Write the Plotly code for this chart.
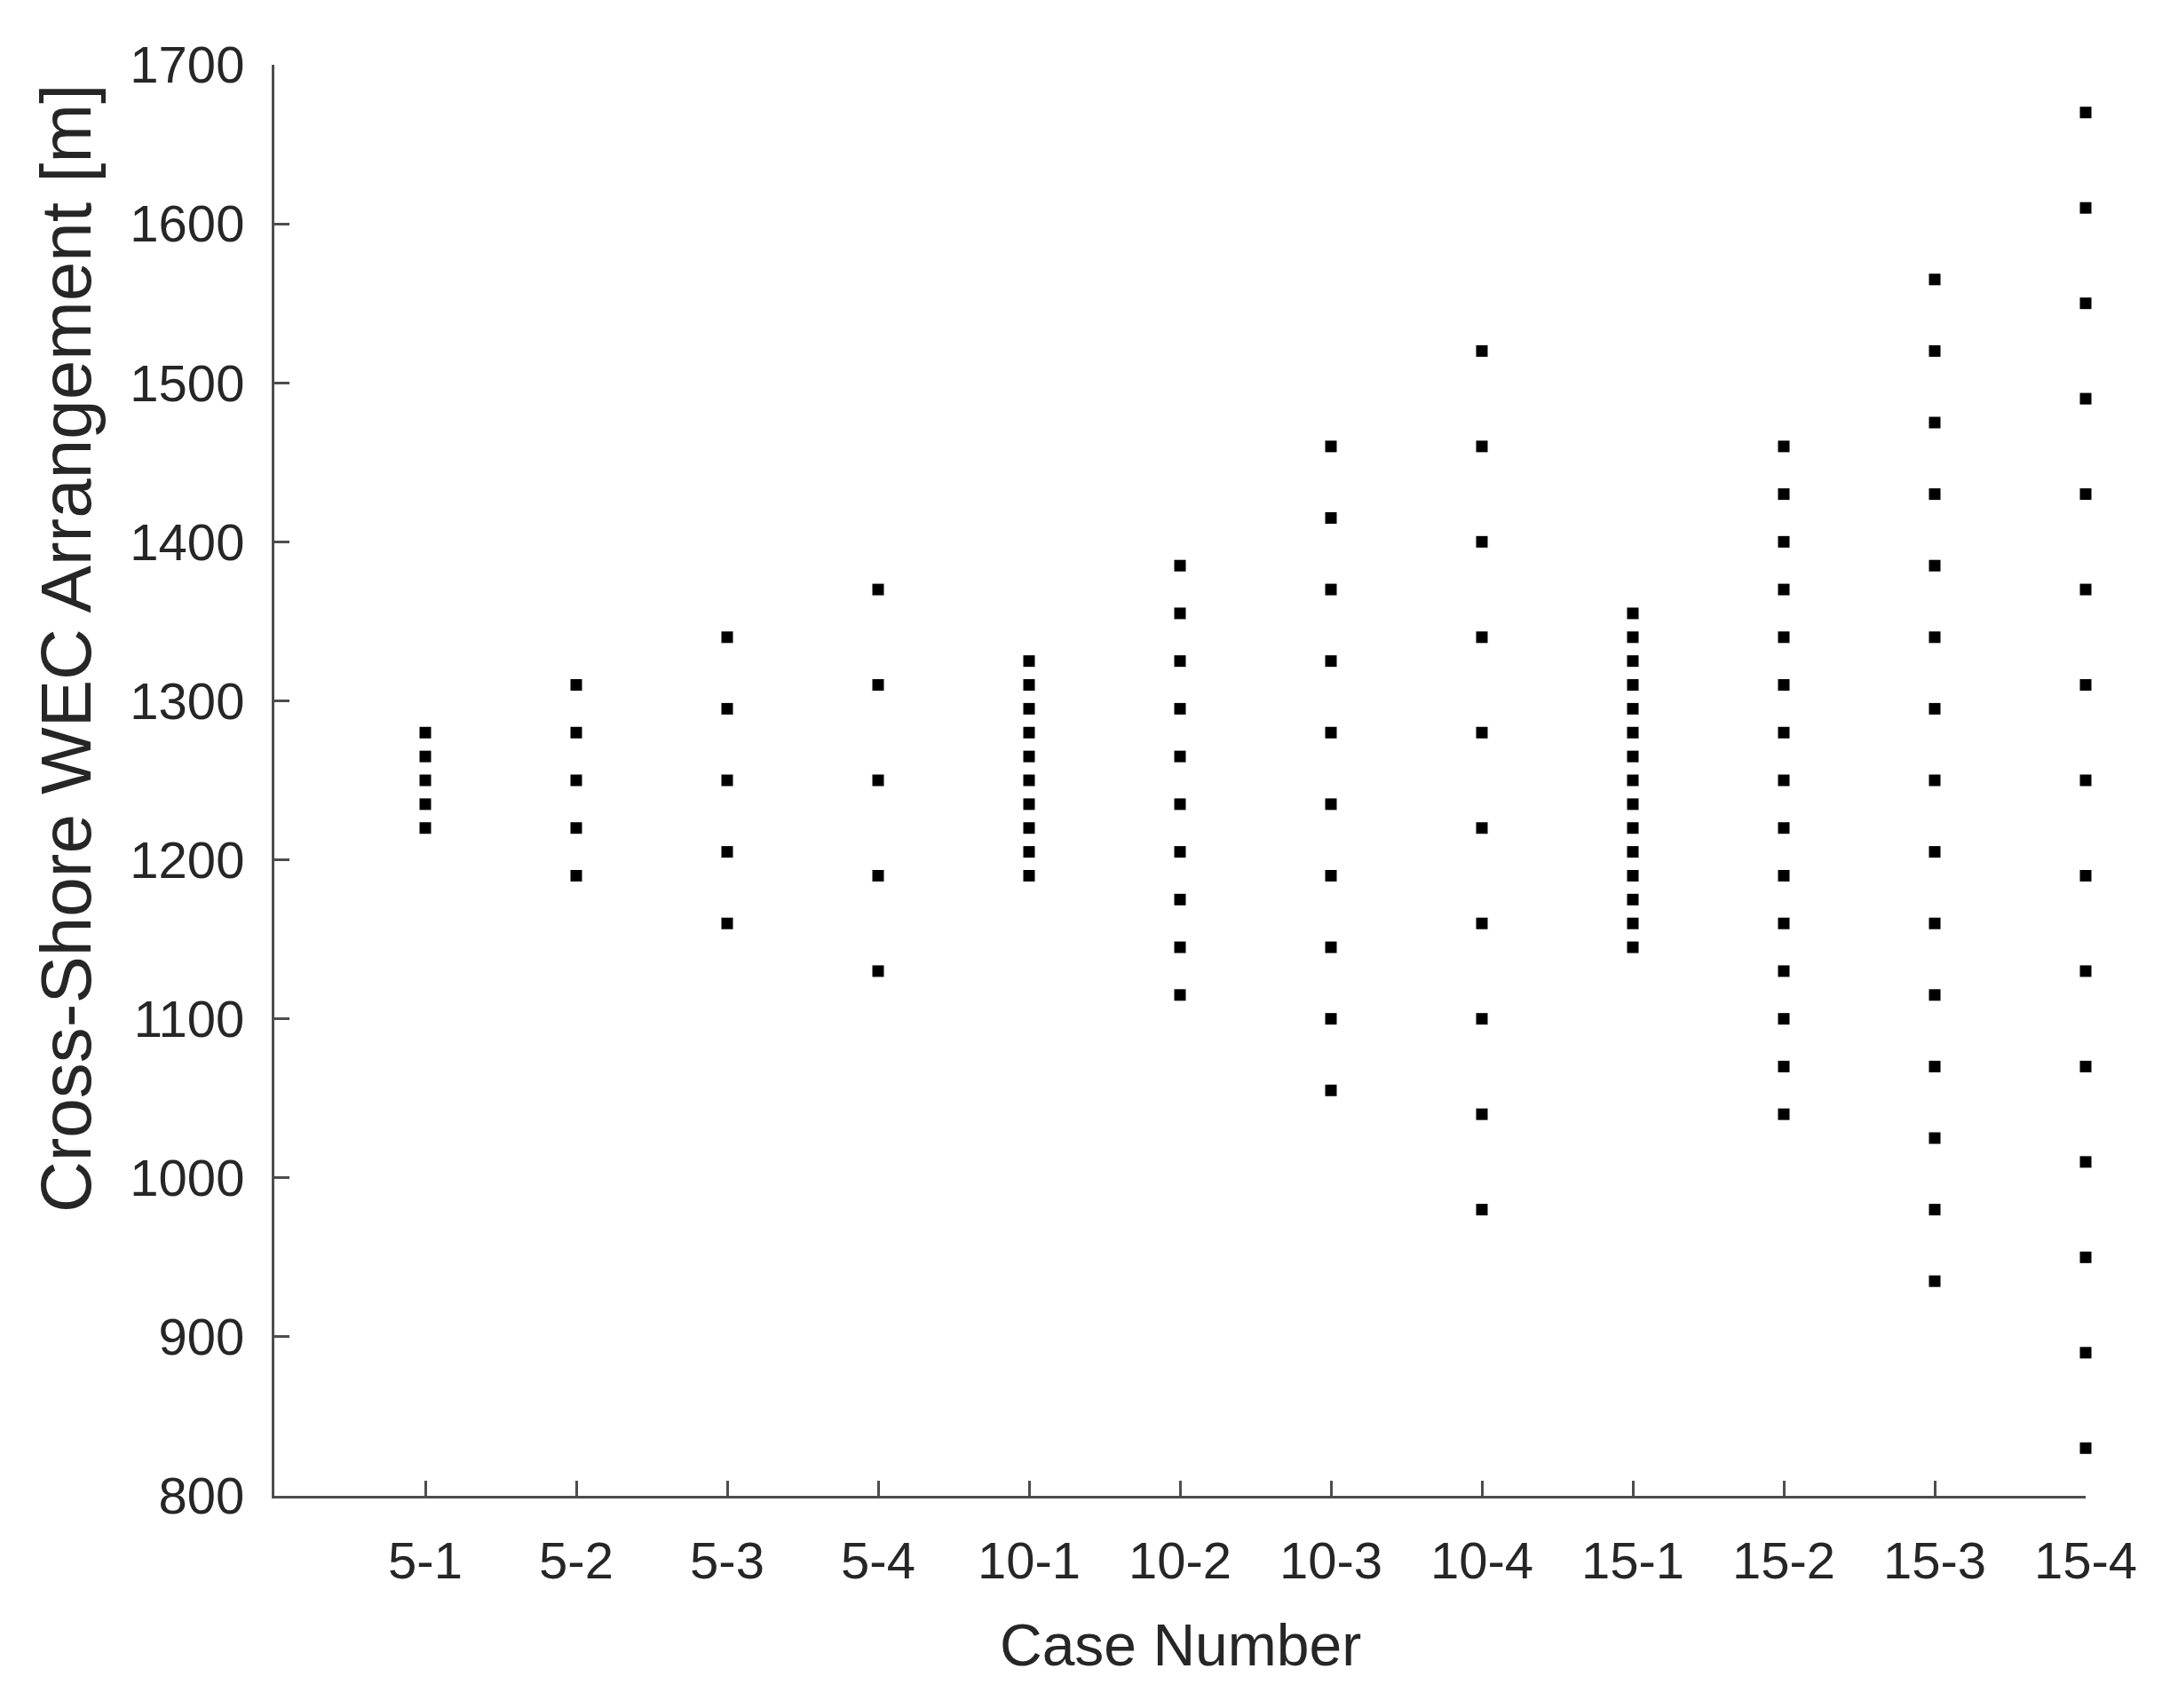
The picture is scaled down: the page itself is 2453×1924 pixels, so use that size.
import plotly.graph_objects as go

# Case labels along the x axis
case_labels = ["5-1", "5-2", "5-3", "5-4", "10-1", "10-2",
               "10-3", "10-4", "15-1", "15-2", "15-3", "15-4"]

# Cross-shore WEC positions [m] per case
case_5_1 = [1220, 1235, 1250, 1265, 1280]
case_5_2 = [1190, 1220, 1250, 1280, 1310]
case_5_3 = [1160, 1205, 1250, 1295, 1340]
case_5_4 = [1130, 1190, 1250, 1310, 1370]
case_10_1 = [1190, 1205, 1220, 1235, 1250, 1265, 1280, 1295, 1310, 1325]
case_10_2 = [1115, 1145, 1175, 1205, 1235, 1265, 1295, 1325, 1355, 1385]
case_10_3 = [1055, 1100, 1145, 1190, 1235, 1280, 1325, 1370, 1415, 1460]
case_10_4 = [980, 1040, 1100, 1160, 1220, 1280, 1340, 1400, 1460, 1520]
case_15_1 = [1145, 1160, 1175, 1190, 1205, 1220, 1235, 1250, 1265, 1280,
             1295, 1310, 1325, 1340, 1355]
case_15_2 = [1040, 1070, 1100, 1130, 1160, 1190, 1220, 1250, 1280, 1310,
             1340, 1370, 1400, 1430, 1460]
case_15_3 = [935, 980, 1025, 1070, 1115, 1160, 1205, 1250, 1295, 1340,
             1385, 1430, 1475, 1520, 1565]
case_15_4 = [830, 890, 950, 1010, 1070, 1130, 1190, 1250, 1310, 1370,
             1430, 1490, 1550, 1610, 1670]

y_ticks = [800, 900, 1000, 1100, 1200, 1300, 1400, 1500, 1600, 1700]

all_cases = [case_5_1, case_5_2, case_5_3, case_5_4, case_10_1, case_10_2,
             case_10_3, case_10_4, case_15_1, case_15_2, case_15_3, case_15_4]

xs, ys = [], []
for i, vals in enumerate(all_cases, start=1):
    xs += [i] * len(vals)
    ys += vals

AX = "#4d4d4d"
TXT = "#262626"
FONT = "Liberation Sans, Arial, sans-serif"

fig = go.Figure()
fig.add_trace(go.Scatter(
    x=xs, y=ys, mode="markers",
    marker=dict(symbol="square", size=13, color="black", line=dict(width=0)),
    cliponaxis=False, showlegend=False,
))

fig.update_layout(
    width=2453, height=1924,
    paper_bgcolor="white", plot_bgcolor="white",
    margin=dict(l=301, r=112, t=65, b=247),
    font=dict(family=FONT, color=TXT, size=58),
    xaxis=dict(
        range=[0, 12], tickvals=list(range(1, 13)), ticktext=case_labels,
        showgrid=False, zeroline=False, showline=True, linecolor=AX, linewidth=3,
        ticks="inside", ticklen=17, tickwidth=3, tickcolor=AX,
        ticklabelstandoff=20, tickfont=dict(size=58, color=TXT),
    ),
    yaxis=dict(
        range=[800, 1700], tickvals=y_ticks,
        showgrid=False, zeroline=False, showline=True, linecolor=AX, linewidth=3,
        ticks="inside", ticklen=17, tickwidth=3, tickcolor=AX,
        ticklabelstandoff=19, tickfont=dict(size=58, color=TXT),
    ),
    annotations=[
        dict(text="Case Number", xref="paper", yref="paper", x=0.5, y=-0.104,
             xanchor="center", yanchor="middle", showarrow=False,
             font=dict(size=66, color=TXT)),
        dict(text="Cross-Shore WEC Arrangement [m]", xref="paper", yref="paper",
             x=-0.115, y=0.592, textangle=-90, xanchor="center", yanchor="middle",
             showarrow=False, font=dict(size=80, color=TXT)),
    ],
)

fig.write_html("out.html")
